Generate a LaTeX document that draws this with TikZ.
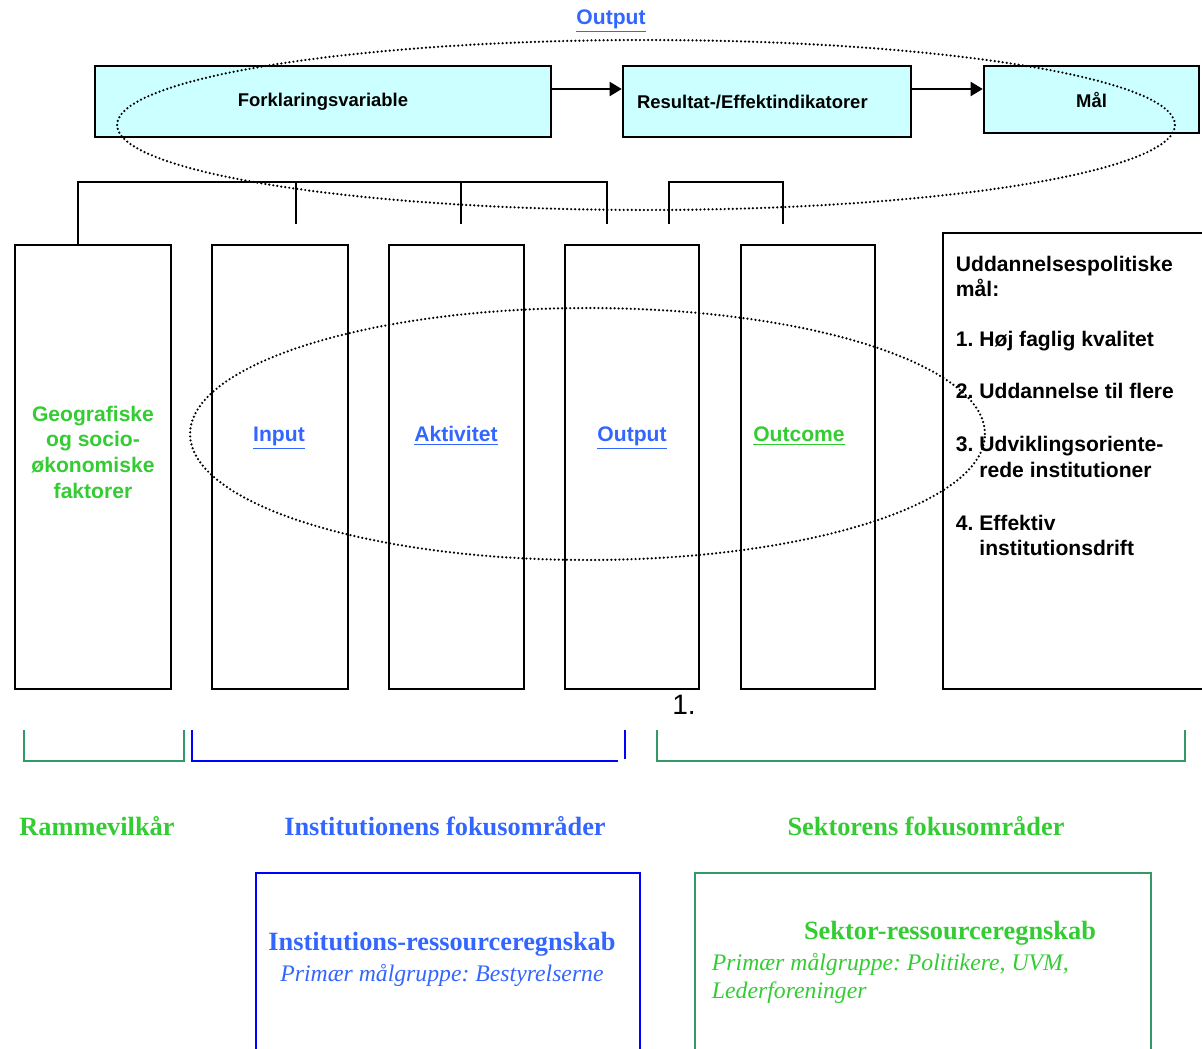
\documentclass[tikz,border=0pt]{standalone}
\usepackage{fontspec}
\setmainfont{Liberation Serif}
\setsansfont{Liberation Sans}
\usetikzlibrary{arrows.meta}
\frenchspacing

\definecolor{boxcyan}{HTML}{CCFFFF}
\definecolor{txtblue}{HTML}{3366FF}
\definecolor{txtgreen}{HTML}{33CC33}
\definecolor{linegreen}{HTML}{339966}
\definecolor{lineblue}{HTML}{0000FF}

\begin{document}
\begin{tikzpicture}[
            x = 0.02cm, y = -0.02cm, % one unit = one pixel of the sketch
            > = {Triangle[length=7pt, width=8pt]}, % arrow head style
            line width = 1.1pt
        ]

        \tikzstyle{topbox}=[
            draw = black,
            fill = boxcyan,
            line width = 1.4pt,
            inner sep = 0pt,
            font = \sffamily\bfseries\fontsize{10.5pt}{12pt}\selectfont
        ]
        \tikzstyle{column}=[draw = black, inner sep = 0pt, minimum height = 8.88cm]
        \tikzstyle{coltext}=[align = center, font = \sffamily\bfseries\fontsize{12pt}{14.6pt}\selectfont]
        \tikzstyle{ring}=[line width = 1.4pt, dash pattern = on 0pt off 2.3pt, line cap = round]
        \tikzstyle{area}=[font = \bfseries\fontsize{15pt}{17pt}\selectfont]
        \tikzstyle{sub}=[font = \itshape\fontsize{13.5pt}{16pt}\selectfont]

        \useasboundingbox (0,0) rectangle (1202,1048);

	% top row
	\node[coltext, text = txtblue] (title) at (611,21) {\underline{Output}};
	\node[topbox, minimum width = 9.12cm, minimum height = 1.42cm] (forkl) at (323,101.5) {Forklaringsvariable};
	\node[topbox, minimum width = 5.76cm, minimum height = 1.42cm, text width = 5.2cm, inner xsep = 0.28cm, align = left] (res) at (767,101.5) {Resultat-/Effektindikatorer};
	\node[topbox, minimum width = 4.3cm, minimum height = 1.34cm] (maal) at (1091.5,99.5) {Mål};

	\draw[->, line width = 1.4pt] (forkl.east |- 0,89) -- (res.west |- 0,89);
	\draw[->, line width = 1.4pt] (res.east |- 0,89) -- (maal.west |- 0,89);

	\draw[ring] (646,125) ellipse [x radius = 10.58cm, y radius = 1.7cm];

	% columns
	\node[column, minimum width = 3.12cm] (geo) at (93,467) {};
	\node[column, minimum width = 2.72cm] (input) at (280,467) {};
	\node[column, minimum width = 2.70cm] (aktiv) at (456.5,467) {};
	\node[column, minimum width = 2.68cm] (outp) at (632,467) {};
	\node[column, minimum width = 2.68cm] (outc) at (808,467) {};
	\node[column, minimum width = 5.44cm, minimum height = 9.12cm] (goal) at (1079,461) {};

	\node[coltext, text = txtgreen] (geotxt) at (93,452) {Geografiske\\og socio-\\økonomiske\\faktorer};
	\node[coltext, text = txtblue] (inputtxt) at (279,438) {\underline{Input}};
	\node[coltext, text = txtblue] (aktivtxt) at (456,436) {\underline{Aktivitet}};
	\node[coltext, text = txtblue] (outptxt) at (632,438) {\underline{Output}};
	\node[coltext, text = txtgreen] (outctxt) at (799,436) {\underline{Outcome}};

	\node[coltext, align = left, anchor = north west, inner sep = 0pt] (goaltxt) at (955,255) {Uddannelsespolitiske\\
	mål:\\[13.5pt]
	1. Høj faglig kvalitet\\[15.4pt]
	2. Uddannelse til flere\\[15.4pt]
	3. Udviklingsoriente-\\
	\phantom{3. }rede institutioner\\[15.4pt]
	4. Effektiv\\
	\phantom{4. }institutionsdrift};

	% links from the top row
	\coordinate (tickA) at (296,224);
	\coordinate (tickB) at (461,224);
	\coordinate (tickC) at (607,224);
	\coordinate (tickD) at (669,224);
	\coordinate (tickE) at (783,224);
	\draw (geo.north -| 78,0) |- (tickC |- 0,182) -- (tickC);
	\draw (tickA) -- (tickA |- 0,182);
	\draw (tickB) -- (tickB |- 0,182);
	\draw (tickD) |- (tickE |- 0,182) -- (tickE);

	\draw[ring] (587.5,434) ellipse [x radius = 7.95cm, y radius = 2.52cm];

	\node[font = \sffamily\fontsize{16pt}{18pt}\selectfont] (one) at (684,705) {1.};

	% brackets
	\draw[linegreen, line width = 1.3pt] (24,730) |- (184,761) -- (184,730);
	\draw[lineblue, line width = 1.3pt] (192,730) |- (618,761);
	\draw[lineblue, line width = 1.3pt] (625,730) -- (625,759);
	\draw[linegreen, line width = 1.3pt] (657,730) |- (1185,761) -- (1185,730);

	\node[area, text = txtgreen] (ramme) at (97,826) {Rammevilkår};
	\node[area, text = txtblue] (instfok) at (445,826) {Institutionens fokusområder};
	\node[area, text = txtgreen] (sektfok) at (926,826) {Sektorens fokusområder};

	% accounts
	\draw[lineblue, line width = 1.3pt] (256,1060) |- (640,873) -- (640,1060);
	\draw[linegreen, line width = 1.3pt] (695,1060) |- (1151,873) -- (1151,1060);

	\node[area, text = txtblue] (instre) at (442,944) {Institutions-ressourceregnskab};
	\node[sub, text = txtblue] (instsub) at (442,975) {Primær målgruppe: Bestyrelserne};
	\node[area, text = txtgreen] (sektre) at (950,933) {Sektor-ressourceregnskab};
	\node[sub, text = txtgreen, align = left, anchor = west, inner xsep = 0pt] (sektsub) at (711,978) {Primær målgruppe: Politikere, UVM,\\Lederforeninger};

    \end{tikzpicture}
\end{document}
